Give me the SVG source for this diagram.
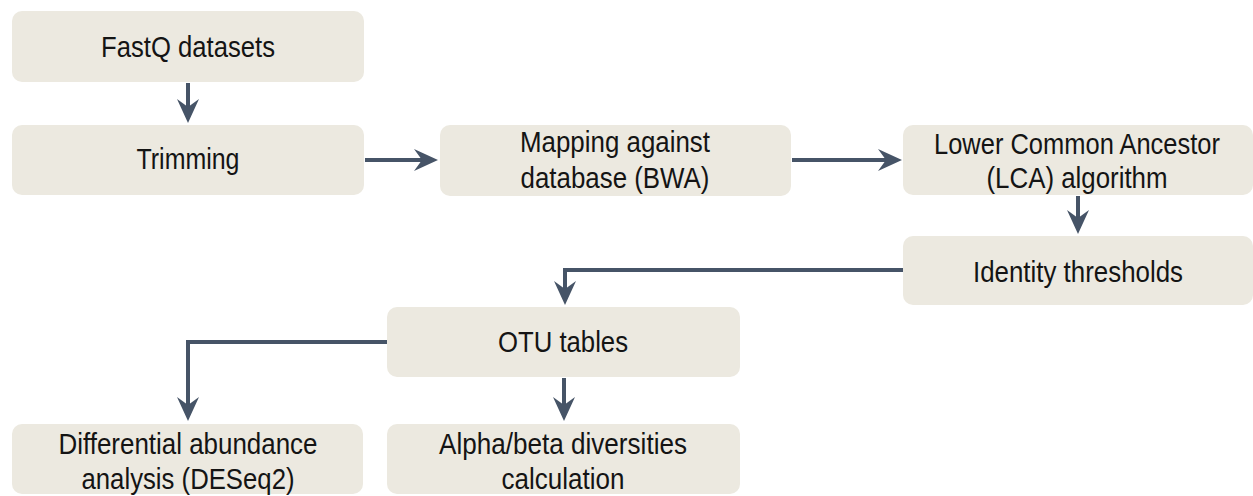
<svg xmlns="http://www.w3.org/2000/svg" width="1253" height="496" viewBox="0 0 1253 496">
<style>
.box{fill:#ECE9E0;}
.t{font-family:"Liberation Sans",Arial,sans-serif;font-size:29px;fill:#141414;text-anchor:middle;}
.c{fill:none;stroke:#465467;stroke-width:4;}
</style>
<defs>
<marker id="ah" markerUnits="userSpaceOnUse" markerWidth="26" markerHeight="24" refX="8" refY="11" orient="auto">
<path d="M0,0 L24,11 L0,22 L8,11 Z" fill="#465467"/>
</marker>
</defs>
<rect width="1253" height="496" fill="#ffffff"/>
<g id="connectors">
<path class="c" d="M188,83 V107" marker-end="url(#ah)"/>
<path class="c" d="M365,160 H422" marker-end="url(#ah)"/>
<path class="c" d="M792,160 H886" marker-end="url(#ah)"/>
<path class="c" d="M1078,196 V218" marker-end="url(#ah)"/>
<path class="c" d="M903,270 H565 V289" marker-end="url(#ah)"/>
<path class="c" d="M387,342 H188 V405" marker-end="url(#ah)"/>
<path class="c" d="M564,378 V405" marker-end="url(#ah)"/>
</g>
<g id="fastq">
<rect class="box" x="12" y="11" width="352" height="71" rx="10"/>
<text class="t" x="188" y="57" textLength="174" lengthAdjust="spacingAndGlyphs">FastQ datasets</text>
</g>
<g id="trimming">
<rect class="box" x="12" y="125" width="352" height="70" rx="10"/>
<text class="t" x="188" y="169" textLength="103" lengthAdjust="spacingAndGlyphs">Trimming</text>
</g>
<g id="mapping">
<rect class="box" x="440" y="125" width="351" height="71" rx="10"/>
<text class="t" x="615" y="152" textLength="190" lengthAdjust="spacingAndGlyphs">Mapping against</text>
<text class="t" x="615" y="188" textLength="189" lengthAdjust="spacingAndGlyphs">database (BWA)</text>
</g>
<g id="lca">
<rect class="box" x="903" y="125" width="350" height="70" rx="10"/>
<text class="t" x="1077" y="154" textLength="286" lengthAdjust="spacingAndGlyphs">Lower Common Ancestor</text>
<text class="t" x="1077" y="188" textLength="181" lengthAdjust="spacingAndGlyphs">(LCA) algorithm</text>
</g>
<g id="identity">
<rect class="box" x="903" y="236" width="350" height="69" rx="10"/>
<text class="t" x="1078" y="282" textLength="210" lengthAdjust="spacingAndGlyphs">Identity thresholds</text>
</g>
<g id="otu">
<rect class="box" x="387" y="307" width="353" height="70" rx="10"/>
<text class="t" x="563" y="352" textLength="130" lengthAdjust="spacingAndGlyphs">OTU tables</text>
</g>
<g id="differential">
<rect class="box" x="12" y="424" width="351" height="70" rx="10"/>
<text class="t" x="188" y="454" textLength="259" lengthAdjust="spacingAndGlyphs">Differential abundance</text>
<text class="t" x="188" y="489" textLength="213" lengthAdjust="spacingAndGlyphs">analysis (DESeq2)</text>
</g>
<g id="alphabeta">
<rect class="box" x="387" y="424" width="353" height="70" rx="10"/>
<text class="t" x="563" y="454" textLength="248" lengthAdjust="spacingAndGlyphs">Alpha/beta diversities</text>
<text class="t" x="563" y="489" textLength="123" lengthAdjust="spacingAndGlyphs">calculation</text>
</g>
</svg>
